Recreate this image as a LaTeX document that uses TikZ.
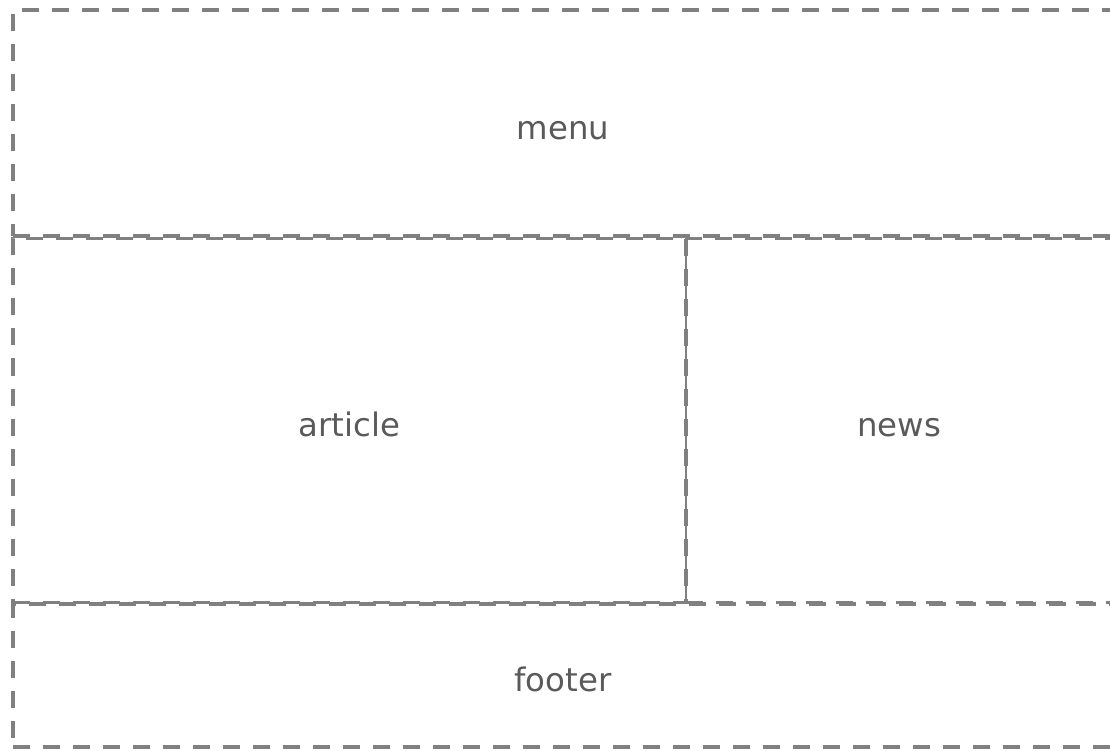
\documentclass[tikz,border=0pt]{standalone}
\usepackage{fontspec}
\setmainfont{DejaVu Sans}
\definecolor{borderGray}{RGB}{128,128,128}
\definecolor{labelGray}{RGB}{90,90,90}
\tikzset{
  region/.style={draw=borderGray, line width=3.5bp, dash pattern=on 17bp off 13bp,
    inner sep=0pt, outer sep=0pt, text=labelGray,
    font=\fontsize{32.5}{38}\selectfont, text height=32bp, text depth=0pt},
}
\begin{document}
\begin{tikzpicture}[x=1bp, y=-1bp]
  \useasboundingbox (0,0) rectangle (1110,751);
  \clip (0,0) rectangle (1110,751);
  % page regions, one dashed box each
  \node[region, minimum width=1100bp, minimum height=226bp] (menu) at (563,123) {menu};
  \node[region, minimum width=673bp, minimum height=364bp] (article) at (349.5,420.5) {article};
  \node[region, minimum width=426bp, minimum height=364bp, line width=2.6bp] (news) at (899,420.5) {news};
  \node[region, minimum width=1100bp, minimum height=143bp] (footer) at (563,675.5) {footer};
\end{tikzpicture}
\end{document}
